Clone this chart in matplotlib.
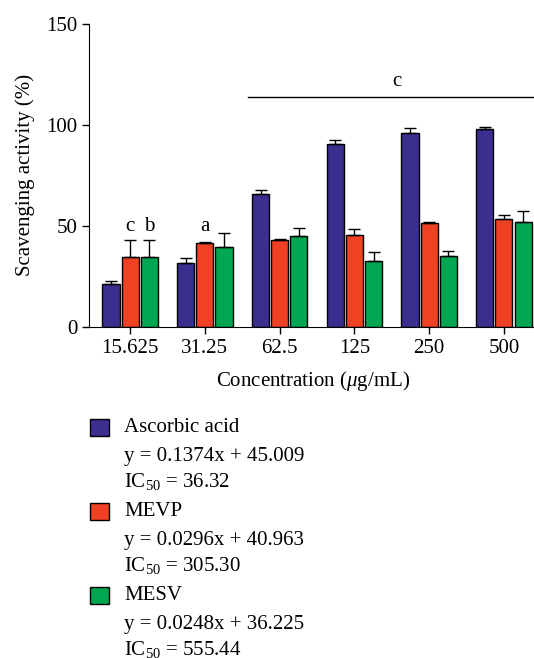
import matplotlib
matplotlib.use("Agg")
import matplotlib.pyplot as plt
import numpy as np
from matplotlib.patches import Rectangle

concentrations = ["15.625", "31.25", "62.5", "125", "250", "500"]
series_names = ["Ascorbic acid", "MEVP", "MESV"]
ascorbic = [21.0, 31.5, 65.9, 90.4, 96.2, 98.0]
ascorbic_err = [1.7, 2.7, 1.8, 2.3, 2.3, 1.0]
mevp = [34.3, 41.5, 43.0, 45.5, 51.4, 53.4]
mevp_err = [8.7, 0.4, 0.5, 2.8, 0.3, 2.0]
mesv = [34.3, 39.7, 45.0, 32.7, 35.0, 51.9]
mesv_err = [8.7, 6.6, 4.0, 4.1, 2.5, 5.3]
equations = ["y = 0.1374x + 45.009", "y = 0.0296x + 40.963", "y = 0.0248x + 36.225"]
ic50 = ["36.32", "305.30", "555.44"]
colors = ["#3a2e8e", "#ef4123", "#00a651"]

plt.rcParams["font.family"] = ["Liberation Serif", "DejaVu Serif"]
plt.rcParams["mathtext.fontset"] = "custom"
plt.rcParams["mathtext.rm"] = "Liberation Serif"
plt.rcParams["mathtext.it"] = "Liberation Serif:italic"
FS = 15

fig = plt.figure(figsize=(5.34, 6.58), dpi=100)
ax = fig.add_axes([0.1667, 0.5035, 0.84, 0.46])

x = np.arange(len(concentrations))
step = 0.256
width = 0.229
values = [ascorbic, mevp, mesv]
errors = [ascorbic_err, mevp_err, mesv_err]
for i, (vals, errs, col) in enumerate(zip(values, errors, colors)):
    pos = x + (i - 1) * step
    ax.bar(pos, vals, width=width, color=col, edgecolor="black", linewidth=1.0, zorder=2)
    ax.errorbar(pos, vals, yerr=[np.zeros(len(errs)), errs], fmt="none",
                ecolor="black", elinewidth=1.0, capsize=4, capthick=1.0, zorder=3)

# significance letters
ax.text(x[0], 49.7, "c", ha="center", va="center", fontsize=FS)
ax.text(x[0] + step, 49.7, "b", ha="center", va="center", fontsize=FS)
ax.text(x[1], 49.7, "a", ha="center", va="center", fontsize=FS)
ax.plot([1.57, 5.6], [114, 114], color="black", lw=1.0, clip_on=False)
ax.text(3.57, 121.5, "c", ha="center", va="center", fontsize=FS)

ax.set_xlim(-0.55, 5.45)
ax.set_ylim(0, 150)
ax.set_yticks([0, 50, 100, 150])
ax.set_xticks(x)
ax.set_xticklabels(concentrations)
ax.tick_params(axis="both", labelsize=FS, direction="out", length=5, width=1)
ax.spines["top"].set_visible(False)
ax.spines["right"].set_visible(False)
ax.set_ylabel("Scavenging activity (%)", fontsize=FS, labelpad=8)
ax.set_xlabel("Concentration ($\\mu$g/mL)", fontsize=FS, labelpad=8)

# legend drawn by hand: patch + three text lines per series
W, H = 534.0, 658.0
row_tops = [428, 512, 596]
for name, eq, ic, col, y0 in zip(series_names, equations, ic50, colors, row_tops):
    fig.patches.append(Rectangle((90 / W, 1 - (y0 + 8) / H), 19 / W, 17 / H,
                                 transform=fig.transFigure, facecolor=col,
                                 edgecolor="black", linewidth=1.0))
    fig.text(124 / W, 1 - y0 / H, name, fontsize=FS, va="center")
    fig.text(124 / W, 1 - (y0 + 28) / H, eq, fontsize=FS, va="center")
    fig.text(124 / W, 1 - (y0 + 53) / H, "IC$_{50}$ = " + ic, fontsize=FS, va="center")

fig.savefig("out.png", dpi=100)
